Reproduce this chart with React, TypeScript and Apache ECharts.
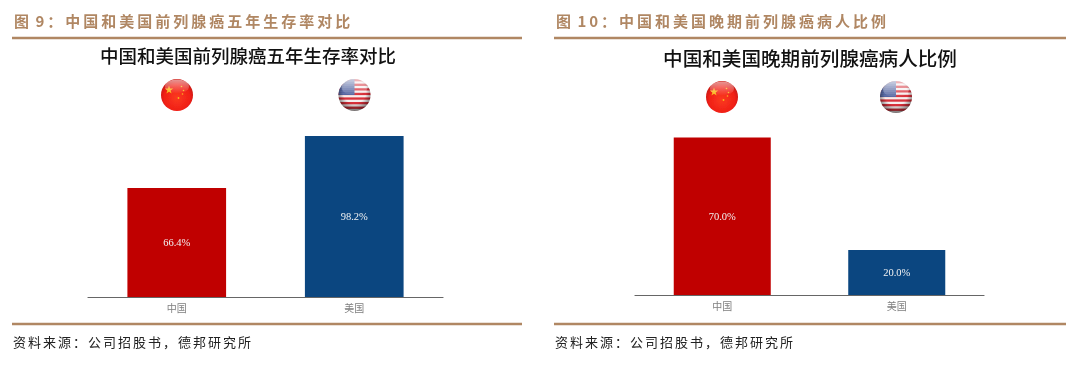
import React, { useEffect, useRef } from "react";
import * as echarts from "echarts";

const categories = ["中国", "美国"];
const survivalValues = [66.4, 98.2];
const advancedValues = [70.0, 20.0];
const barColors = ["#c00000", "#0b4680"];
const heading1 = "图 9：中国和美国前列腺癌五年生存率对比";
const heading2 = "图 10：中国和美国晚期前列腺癌病人比例";
const title1 = "中国和美国前列腺癌五年生存率对比";
const title2 = "中国和美国晚期前列腺癌病人比例";
const sourceNote = "资料来源：公司招股书，德邦研究所";

const BROWN = "#b08763";
const CJK = '"Noto Sans CJK SC", "Noto Sans", sans-serif';

const soft = `<filter id="b" x="-10%" y="-10%" width="120%" height="120%"><feGaussianBlur stdDeviation="0.45"/></filter>`;

const chinaFlag = `<svg xmlns="http://www.w3.org/2000/svg" width="68" height="68" viewBox="0 0 34 34"><defs>${soft}<radialGradient id="g" cx="50%" cy="58%" r="52%"><stop offset="0" stop-color="#fb3a20"/><stop offset="0.8" stop-color="#f01f16"/><stop offset="1" stop-color="#cf1a14"/></radialGradient><linearGradient id="h" x1="0" y1="0" x2="0" y2="1"><stop offset="0" stop-color="#fff" stop-opacity="0.55"/><stop offset="1" stop-color="#fff" stop-opacity="0"/></linearGradient></defs><g filter="url(#b)"><circle cx="17" cy="17" r="16" fill="url(#g)"/><polygon points="9,7.5 10,10.6 13.2,10.6 10.6,12.5 11.6,15.6 9,13.7 6.4,15.6 7.4,12.5 4.8,10.6 8,10.6" fill="#f9b81e"/><circle cx="21.5" cy="8.5" r="0.8" fill="#f9b81e"/><circle cx="23.5" cy="12.5" r="0.8" fill="#f9b81e"/><circle cx="22.5" cy="16" r="0.8" fill="#f9b81e"/><circle cx="18.5" cy="20" r="0.9" fill="#f9b81e"/><ellipse cx="17" cy="8.5" rx="12" ry="7" fill="url(#h)"/></g></svg>`;

const stripes = [0, 1, 2, 3, 4, 5, 6]
  .map((i) => `<rect x="0" y="${1 + i * 4.6}" width="34" height="2.3" fill="#d8303a"/>`)
  .join("");
const usFlag = `<svg xmlns="http://www.w3.org/2000/svg" width="68" height="68" viewBox="0 0 34 34"><defs>${soft}<clipPath id="c"><circle cx="17" cy="17" r="16"/></clipPath><radialGradient id="s" cx="50%" cy="40%" r="58%"><stop offset="0.62" stop-color="#000" stop-opacity="0"/><stop offset="1" stop-color="#000" stop-opacity="0.5"/></radialGradient><pattern id="d" width="2" height="2" patternUnits="userSpaceOnUse"><rect width="2" height="2" fill="#3c4f92"/><circle cx="1" cy="1" r="0.5" fill="#d8dcf0"/></pattern><linearGradient id="h" x1="0" y1="0" x2="0" y2="1"><stop offset="0" stop-color="#fff" stop-opacity="0.72"/><stop offset="1" stop-color="#fff" stop-opacity="0"/></linearGradient></defs><g filter="url(#b)"><g clip-path="url(#c)"><rect width="34" height="34" fill="#f6eeee"/>${stripes}<rect width="17" height="17" fill="url(#d)"/></g><circle cx="17" cy="17" r="16" fill="url(#s)"/><ellipse cx="17" cy="9" rx="13" ry="8.5" fill="url(#h)"/></g></svg>`;

const uri = (svg: string) => "data:image/svg+xml;charset=utf-8," + encodeURIComponent(svg);

const flag = (svg: string, cx: number, cy: number) => ({
  type: "image",
  style: { image: uri(svg), x: cx - 17, y: cy - 17, width: 34, height: 34 },
});

const text = (t: string, x: number, y: number, font: string, fill: string, align = "left") => ({
  type: "text",
  style: { text: t, x, y, font, fill, textAlign: align, textVerticalAlign: "middle" },
});

const rule = (x1: number, x2: number, y: number) => ({
  type: "line",
  shape: { x1, y1: y, x2, y2: y },
  style: { stroke: BROWN, lineWidth: 2.5 },
});

const barSeries = (values: number[], idx: number) => ({
  type: "bar",
  xAxisIndex: idx,
  yAxisIndex: idx,
  barWidth: "55.6%",
  data: values.map((v, i) => ({ value: v, itemStyle: { color: barColors[i] } })),
  label: {
    show: true,
    position: "inside",
    formatter: (p: any) => p.value.toFixed(1) + "%",
    color: "#f2f2f2",
    fontSize: 10.5,
    fontFamily: '"Liberation Serif", serif',
  },
});

const xAxis = (idx: number) => ({
  type: "category",
  gridIndex: idx,
  data: categories,
  axisLine: { show: true, lineStyle: { color: "#666666", width: 1.2 } },
  axisTick: { show: false },
  axisLabel: { color: "#7f7f7f", fontSize: 10, margin: 5, fontFamily: CJK },
});

const yAxis = (idx: number, max: number) => ({
  type: "value",
  gridIndex: idx,
  min: 0,
  max,
  show: false,
});

export default function App() {
  const ref = useRef<HTMLDivElement>(null);
  useEffect(() => {
    const chart = echarts.init(ref.current!, undefined, { renderer: "svg" });
    chart.setOption({
      animation: false,
      backgroundColor: "#ffffff",
      grid: [
        { left: 88, top: 133, width: 355, height: 164 },
        { left: 635, top: 115, width: 349, height: 180 },
      ],
      xAxis: [xAxis(0), xAxis(1)],
      yAxis: [yAxis(0, 100), yAxis(1, 80)],
      series: [barSeries(survivalValues, 0), barSeries(advancedValues, 1)],
      graphic: [
        text(heading1, 14, 20, `600 15px ${CJK}`, BROWN),
        text(heading2, 556, 20, `600 15px ${CJK}`, BROWN),
        rule(12, 522, 38),
        rule(554, 1066, 38),
        text(title1, 248, 55, `500 18.5px ${CJK}`, "#111111", "center"),
        text(title2, 810, 57, `500 19.6px ${CJK}`, "#111111", "center"),
        flag(chinaFlag, 177, 95),
        flag(usFlag, 354.5, 95),
        flag(chinaFlag, 722, 97),
        flag(usFlag, 896, 97),
        rule(12, 522, 324),
        rule(554, 1066, 324),
        text(sourceNote, 13, 341, `400 13px ${CJK}`, "#222222"),
        text(sourceNote, 555, 341, `400 13px ${CJK}`, "#222222"),
      ],
    });
    ref.current!.querySelectorAll("text").forEach((el) => {
      const t = el.textContent || "";
      const s = (el as SVGElement).style;
      if (t.startsWith("图 ")) {
        s.letterSpacing = "3px";
        s.wordSpacing = "-3px";
      }
      if (t.startsWith("资料")) s.letterSpacing = "2px";
    });
    return () => chart.dispose();
  }, []);
  return (
    <div
      ref={ref}
      style={{ position: "absolute", left: 0, top: 0, width: 1080, height: 372, filter: "blur(0.35px)" }}
    />
  );
}
